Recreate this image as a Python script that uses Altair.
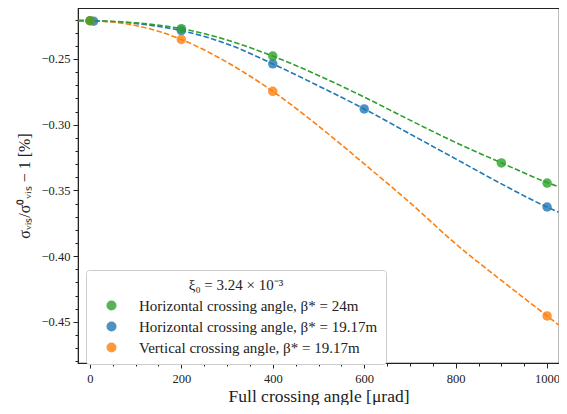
import altair as alt
import pandas as pd

# ---- data ----
series_names = [
    "Horizontal crossing angle, β* = 24m",
    "Horizontal crossing angle, β* = 19.17m",
    "Vertical crossing angle, β* = 19.17m",
]
series_colors = ["#2ca02c", "#1f77b4", "#ff7f0e"]

# measured points
green_x = [0, 200, 400, 900, 1000]
green_y = [-0.2209, -0.2269, -0.2478, -0.3291, -0.3444]
blue_x = [8, 200, 400, 600, 1000]
blue_y = [-0.2212, -0.2284, -0.2537, -0.2880, -0.3626]
orange_x = [0, 200, 400, 1000]
orange_y = [-0.2209, -0.2351, -0.2746, -0.4455]

# dashed fit curves
curve_x = [-25, 0, 100, 200, 300, 400, 500, 600, 700, 800, 900, 1000, 1025]
green_curve = [-0.2208, -0.2209, -0.2225, -0.2269, -0.2355, -0.2478, -0.2625,
               -0.2790, -0.2965, -0.3135, -0.3290, -0.3440, -0.3472]
blue_curve = [-0.2208, -0.2209, -0.2230, -0.2284, -0.2385, -0.2537, -0.2705,
              -0.2880, -0.3070, -0.3260, -0.3450, -0.3627, -0.3665]
orange_curve = [-0.2208, -0.2209, -0.2245, -0.2351, -0.2525, -0.2746, -0.3010,
                -0.3298, -0.3593, -0.3906, -0.4185, -0.4455, -0.4523]

x_ticks = list(range(0, 1001, 50))
y_ticks = [round(-0.48 + 0.01 * i, 2) for i in range(28)]

# ---- tables ----
pts = pd.concat([
    pd.DataFrame({"x": green_x, "y": green_y, "s": series_names[0], "o": 2}),
    pd.DataFrame({"x": blue_x, "y": blue_y, "s": series_names[1], "o": 0}),
    pd.DataFrame({"x": orange_x, "y": orange_y, "s": series_names[2], "o": 1}),
])
curve_tables = [
    pd.DataFrame({"x": curve_x, "y": blue_curve}),
    pd.DataFrame({"x": curve_x, "y": orange_curve}),
    pd.DataFrame({"x": curve_x, "y": green_curve}),
]
curve_colors = [series_colors[1], series_colors[2], series_colors[0]]

FONT = "Liberation Serif"
INK = "#222222"

xscale = alt.Scale(domain=[-26, 1026], nice=False, zero=False)
yscale = alt.Scale(domain=[-0.4813, -0.2112], nice=False, zero=False)

major_y = "abs(round(datum.value*100)) % 5 == 0"
xaxis = alt.Axis(
    title="Full crossing angle [μrad]", values=x_ticks,
    labelExpr="datum.value % 200 == 0 ? datum.value : ''",
    tickSize={"condition": {"test": "datum.value % 200 == 0", "value": 5}, "value": 3},
    labelOverlap=False, grid=False, labelFont=FONT, labelFontSize=12.5,
    titleFont=FONT, titleFontSize=17.5, titleFontWeight="normal",
    labelColor=INK, titleColor=INK, domainColor=INK, tickColor=INK,
    labelPadding=4, titlePadding=3, labelFlush=False,
)
yaxis = alt.Axis(
    title="σᵥᵢₛ/σ⁰ᵥᵢₛ − 1 [%]", values=y_ticks,
    labelExpr=f"{major_y} ? replace(format(datum.value, '.2f'), '-', '−') : ''",
    tickSize={"condition": {"test": major_y, "value": 5}, "value": 3},
    labelOverlap=False, grid=False, labelFont=FONT, labelFontSize=12.5,
    titleFont=FONT, titleFontSize=16, titleFontWeight="normal",
    labelColor=INK, titleColor=INK, domainColor=INK, tickColor=INK,
    labelPadding=3, titlePadding=9, labelFlush=False,
)

layers = []
for tbl, col in zip(curve_tables, curve_colors):
    layers.append(
        alt.Chart(tbl).mark_line(strokeDash=[5.5, 2.4], strokeWidth=1.6, color=col,
                                 interpolate="monotone", clip=True).encode(
            x=alt.X("x:Q", scale=xscale, axis=xaxis),
            y=alt.Y("y:Q", scale=yscale, axis=yaxis),
        )
    )

points = alt.Chart(pts).mark_circle(size=90, opacity=0.8).encode(
    x=alt.X("x:Q", scale=xscale, axis=xaxis),
    y=alt.Y("y:Q", scale=yscale, axis=yaxis),
    color=alt.Color(
        "s:N", scale=alt.Scale(domain=series_names, range=series_colors),
        sort=series_names,
        legend=alt.Legend(
            title="ξ₀ = 3.24 × 10⁻³", orient="none", legendX=8, legendY=262,
            titleFont=FONT, titleFontSize=15, titleFontWeight="normal", titleAnchor="middle",
            titleColor=INK, labelColor=INK,
            labelFont=FONT, labelFontSize=15, labelOffset=20, symbolSize=100,
            symbolType="circle", symbolOpacity=0.8, rowPadding=5, padding=8,
            fillColor="white", strokeColor="#cccccc", cornerRadius=3,
            titlePadding=5, labelLimit=400, symbolOffset=10,
        ),
    ),
    order="o:Q",
)
layers.append(points)

chart = alt.layer(*layers).properties(
    width=481, height=355,
    autosize=alt.AutoSizeParams(type="none"),
    padding={"left": 70, "top": 0, "right": 0, "bottom": 42},
).configure_view(stroke=INK, strokeWidth=1.2)

chart.save("out.html", embed_options={"renderer": "svg", "actions": False})
